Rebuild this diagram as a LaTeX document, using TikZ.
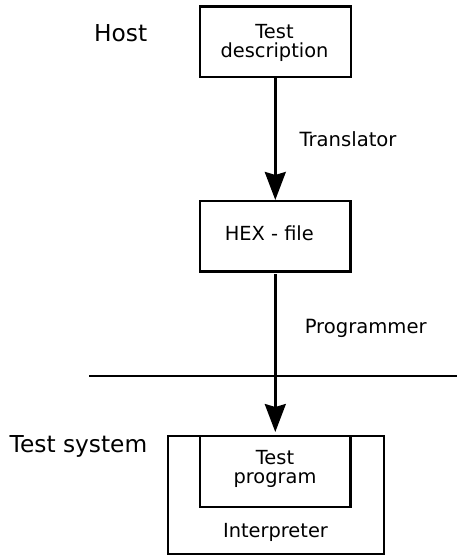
\documentclass[tikz,border=0pt]{standalone}
\usepackage{fontspec}
\setmainfont{DejaVu Sans}
\usetikzlibrary{arrows.meta}

\tikzset{
  box/.style={draw, line width=2.4pt, outer sep=0pt, inner sep=0pt, rectangle},
  boxtext/.style={font=\fontsize{19.4}{18.7}\selectfont, align=center, inner sep=0pt, anchor=base},
  lbl/.style={font=\fontsize{19.6}{19.6}\selectfont, inner sep=0pt, anchor=base},
  biglbl/.style={font=\fontsize{23.3}{23.3}\selectfont, inner sep=0pt, anchor=base},
  flow/.style={line width=2.4pt, -{Stealth[length=28pt, width=21pt, inset=3pt]}},
  divider/.style={line width=2.4pt}
}

\begin{document}
\begin{tikzpicture}[x=1pt, y=-1pt]
  \useasboundingbox (0,0) rectangle (457,556);

  % boxes
  \node[box, minimum width=151pt, minimum height=70.6pt] (desc) at (275.3,42) {};
  \node[box, minimum width=150.7pt, minimum height=70.7pt] (hex) at (275.3,236.3) {};
  \node[box, minimum width=215.5pt, minimum height=118.3pt] (outer) at (276,494.9) {};
  \node[box, minimum width=150.7pt, minimum height=71pt] (inner) at (275.3,471.2) {};

  % texts inside boxes (anchored at the baseline of the last line)
  \node[boxtext] (desctext) at (274.5,57.7) {Test\\description};
  \node[boxtext] (hextext) at (269.3,240.7) {HEX - file};
  \node[boxtext] (progtext) at (275,483.3) {Test\\program};
  \node[boxtext] (interp) at (275.5,537.7) {Interpreter};

  % side labels
  \node[biglbl] (host) at (120.7,41.7) {Host};
  \node[biglbl] (testsys) at (78.5,452.3) {Test system};
  \node[lbl] (translator) at (348,147) {Translator};
  \node[lbl] (programmer) at (365.7,333.3) {Programmer};

  % host / test system boundary
  \coordinate (divL) at (89,376);
  \coordinate (divR) at (457,376);
  \draw[divider] (divL) -- (divR);

  % flow arrows
  \draw[flow, shorten >=1pt] (desc.south) -- (hex.north);
  \draw[flow, shorten <=2.5pt, shorten >=3.7pt] (hex.south) -- (inner.north);
\end{tikzpicture}
\end{document}
